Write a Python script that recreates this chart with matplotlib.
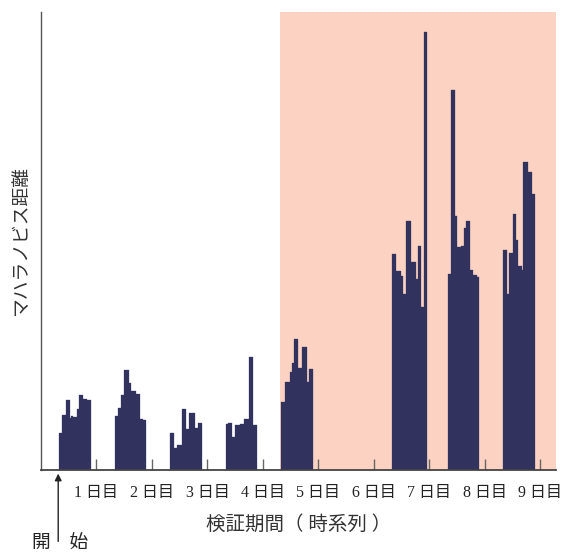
import matplotlib.pyplot as plt
import numpy as np

# Fonts: serif digits, CJK glyphs fall back to Noto Sans CJK JP
plt.rcParams['font.family'] = ['Liberation Serif', 'Noto Sans CJK JP']
plt.rcParams['font.size'] = 10

# Mahalanobis distance per 30-minute slot, starting 8:00 each day
day1 = [37, 37, 55, 55, 55, 55, 70, 70, 70, 52, 54, 54, 53, 53, 53, 61, 61, 75, 75, 75, 71, 71, 71, 71, 70, 70, 70]
day2 = [54, 54, 54, 62, 62, 75, 75, 75, 100, 100, 100, 100, 87, 87, 79, 79, 79, 79, 76, 76, 76, 76, 51, 51, 50, 50, 50]
day3 = [37, 37, 37, 22, 22, 22, 25, 25, 25, 25, 61, 61, 61, 41, 41, 41, 57, 57, 57, 57, 57, 42, 42, 42, 47, 47, 47]
day4 = [46, 46, 47, 47, 47, 33, 33, 33, 45, 45, 45, 45, 46, 46, 46, 46, 51, 51, 51, 51, 113, 113, 113, 45, 45, 45, 45]
day5 = [68, 68, 68, 88, 88, 88, 88, 98, 98, 107, 107, 131, 131, 131, 102, 102, 102, 102, 123, 123, 123, 123, 88, 88, 101, 101, 101]
day6 = []
day7 = [216, 216, 216, 199, 199, 199, 199, 194, 194, 176, 176, 176, 249, 249, 249, 249, 208, 208, 208, 208, 191, 191, 224, 224, 224, 163, 163, 438, 438, 438]
day8 = [196, 196, 196, 380, 380, 380, 254, 254, 223, 223, 223, 224, 224, 224, 242, 242, 249, 249, 249, 200, 200, 200, 195, 195, 195, 193, 193]
day9 = [220, 220, 220, 176, 176, 217, 217, 217, 256, 256, 256, 230, 230, 204, 204, 204, 200, 308, 308, 308, 308, 298, 298, 298, 298, 276, 276]
days = [day1, day2, day3, day4, day5, day6, day7, day8, day9]

day_labels = ['1 日目', '2 日目', '3 日目', '4 日目', '5 日目', '6 日目', '7 日目', '8 日目', '9 日目']
start_hour = 8
slot_hours = 0.5
test_start = 4.31   # validation period begins (in days)
run_start = 0.31    # monitoring start marker (in days)

bar_color = '#31335e'
shade_color = '#fcd3c2'

fig = plt.figure(figsize=(5.64, 5.52), dpi=100)
ax = fig.add_axes([0.0727, 0.1486, 0.913, 0.8297])

# Shaded validation period
ax.axvspan(test_start, 9.28, facecolor=shade_color, edgecolor='none', zorder=0)

# Bars for each day
for d, vals in enumerate(days):
    if len(vals) == 0:
        continue
    x = d + (start_hour + slot_hours * np.arange(len(vals))) / 24
    ax.bar(x, vals, width=slot_hours / 24, align='edge', color=bar_color,
           edgecolor=bar_color, linewidth=0.2, zorder=2)

# Limits
ax.set_xlim(0, 9.28)
ax.set_ylim(0, 458)

# Axes styling
ax.spines['top'].set_visible(False)
ax.spines['right'].set_visible(False)
ax.spines['left'].set_color('#555555')
ax.spines['left'].set_linewidth(1.0)
ax.spines['bottom'].set_color('#444444')
ax.spines['bottom'].set_linewidth(1.3)
ax.set_yticks([])

ax.set_xticks(np.arange(1, 10))
ax.set_xticklabels(day_labels)
ax.tick_params(axis='x', direction='in', length=8, width=1, color='#666666',
               pad=11, labelsize=11.5, labelcolor='#222222')

# Titles
ax.set_xlabel('検証期間（ 時系列 ）', fontsize=14, labelpad=10, color='#333333')
ax.set_ylabel('マハラノビス距離', fontsize=13.5, labelpad=8, color='#333333')

# Start marker below the axis
trans = ax.get_xaxis_transform()
ax.annotate('', xy=(run_start, -0.008), xytext=(run_start, -0.156), xycoords=trans,
            textcoords=trans, annotation_clip=False,
            arrowprops=dict(arrowstyle='-|>', color='#222222', lw=1.0,
                            mutation_scale=10, shrinkA=0, shrinkB=0))
ax.text(run_start + 0.03, -0.161, '開　始', transform=trans, ha='center', va='center',
        fontsize=13.5, color='#222222')

# Save to file
fig.savefig('out.png', dpi=100)
